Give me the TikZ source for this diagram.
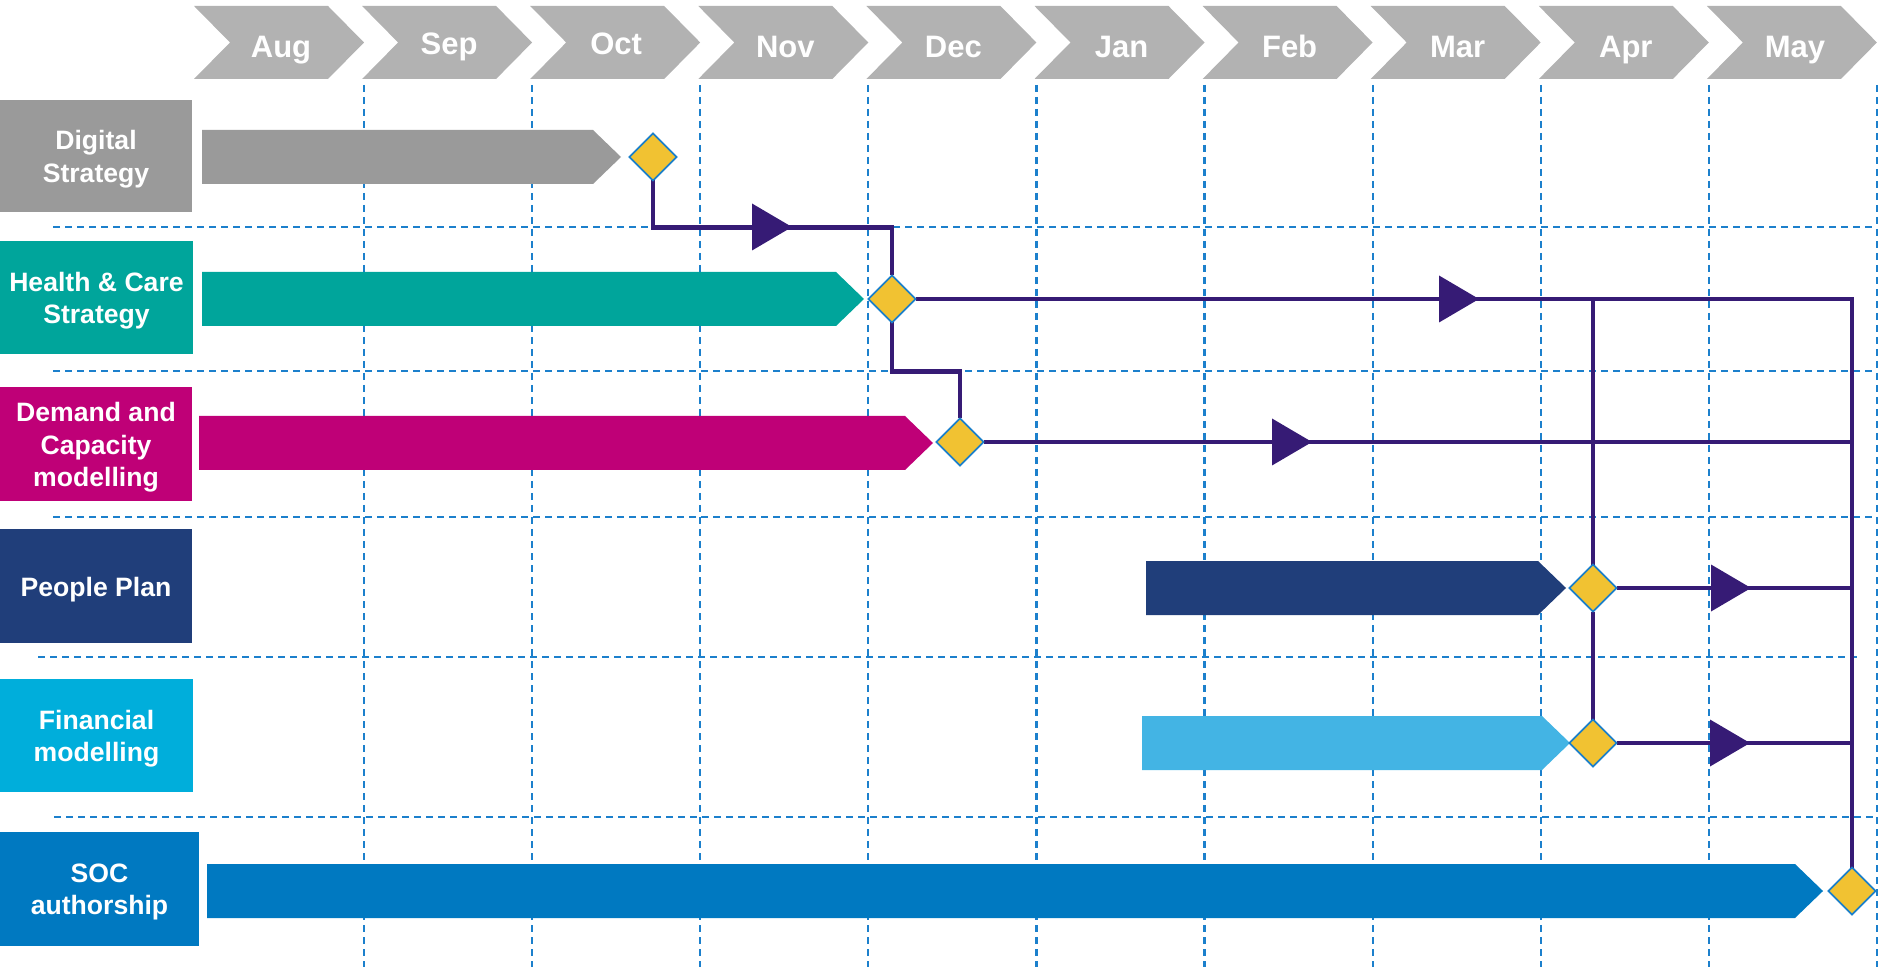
\documentclass[tikz,border=0pt]{standalone}
\usepackage{fontspec}
\setmainfont{Liberation Sans}
\usetikzlibrary{shapes.geometric}
\definecolor{chev}{HTML}{B2B2B2}
\definecolor{dgrey}{HTML}{9A9A9A}
\definecolor{teal}{HTML}{00A59B}
\definecolor{magenta}{HTML}{BF0077}
\definecolor{navy}{HTML}{203E7A}
\definecolor{finbox}{HTML}{00AEDB}
\definecolor{finbar}{HTML}{43B4E4}
\definecolor{socblue}{HTML}{0079C1}
\definecolor{gold}{HTML}{F1C232}
\definecolor{mblue}{HTML}{1B7FC9}
\definecolor{conncol}{HTML}{361B75}
\definecolor{gridcol}{HTML}{1C80CC}
\newcommand\ganttbar[4]{\fill[#1] (#2,#4-27) -- (#3,#4-27) -- (#3+28,#4) -- (#3,#4+27) -- (#2,#4+27) -- cycle;}
\newcommand\midarrow[2]{\fill[conncol] (#1,#2-23.5) -- (#1+40,#2) -- (#1,#2+23.5) -- cycle;}
\begin{document}
\begin{tikzpicture}[x=0.5pt,y=-0.5pt,
  grid/.style={draw=gridcol,line width=1.1pt,dash pattern=on 3.5pt off 2.5pt},
  conn/.style={draw=conncol,line width=2.2pt},
  ms/.style={diamond,aspect=1,minimum width=23.5pt,minimum height=23.5pt,inner sep=0pt,outer sep=0pt,fill=gold,draw=mblue,line width=0.8pt},
  lab/.style={rectangle,inner sep=0pt,outer sep=0pt},
  labtext/.style={text=white,align=center,inner sep=0pt,yshift=-1.6pt,font=\bfseries\fontsize{13.3pt}{16.1pt}\selectfont},
  mon/.style={text=white,anchor=base,inner sep=0pt,font=\bfseries\fontsize{15.5pt}{18pt}\selectfont}]
\useasboundingbox (0,0) rectangle (1878,967);
% vertical grid
\foreach \i in {0,...,9}{
  \pgfmathsetmacro\gx{364+168.1*\i}
  \draw[grid] (\gx,85) -- (\gx,967);
}
% horizontal grid
\draw[grid] (53,227) -- (1876,227);
\draw[grid] (53,371) -- (1876,371);
\draw[grid] (53,517) -- (1876,517);
\draw[grid] (38,657) -- (1859,657);
\draw[grid] (54,817) -- (1876,817);
% chevrons
\foreach \m [count=\i from 0] in {Aug,Sep,Oct,Nov,Dec,Jan,Feb,Mar,Apr,May}{
  \pgfmathsetmacro\L{194+168.1*\i}
  \fill[chev] (\L,6) -- (\L+134,6) -- (\L+170,42.5) -- (\L+134,79) -- (\L,79) -- (\L+36,42.5) -- cycle;
}
\node[mon] (mAug) at (281,57.5) {Aug};
\node[mon] (mSep) at (449.1,54.5) {Sep};
\node[mon] (mOct) at (616.2,54.5) {Oct};
\node[mon] (mNov) at (785.3,57.5) {Nov};
\node[mon] (mDec) at (953.4,57.5) {Dec};
\node[mon] (mJan) at (1121.5,57.5) {Jan};
\node[mon] (mFeb) at (1289.6,57.5) {Feb};
\node[mon] (mMar) at (1457.7,57.5) {Mar};
\node[mon] (mApr) at (1625.8,57.5) {Apr};
\node[mon] (mMay) at (1795,57.5) {May};
% row labels
\node[lab,fill=dgrey,minimum width=96pt,minimum height=56pt,label={[labtext]center:{Digital\\Strategy}}] (lDig) at (96,156) {};
\node[lab,fill=teal,minimum width=96.5pt,minimum height=56.5pt,label={[labtext]center:{Health \& Care\\Strategy}}] (lHea) at (96.5,297.5) {};
\node[lab,fill=magenta,minimum width=96pt,minimum height=57pt,label={[labtext]center:{Demand and\\Capacity\\modelling}}] (lDem) at (96,444) {};
\node[lab,fill=navy,minimum width=96pt,minimum height=57pt,label={[labtext]center:{People Plan}}] (lPeo) at (96,586) {};
\node[lab,fill=finbox,minimum width=96.5pt,minimum height=56.5pt,label={[labtext]center:{Financial\\modelling}}] (lFin) at (96.5,735.5) {};
\node[lab,fill=socblue,minimum width=99.5pt,minimum height=57pt,label={[labtext]center:{SOC\\authorship}}] (lSoc) at (99.5,889) {};
% bars
\ganttbar{dgrey}{202}{593}{157}
\ganttbar{teal}{202}{836}{299}
\ganttbar{magenta}{199}{905}{443}
\ganttbar{navy}{1146}{1538}{588}
\ganttbar{finbar}{1142}{1542}{743}
\ganttbar{socblue}{207}{1795}{891}
% milestones (anchors)
\node[ms] (d1) at (653,157) {};
\node[ms] (d2) at (892,299) {};
\node[ms] (d3) at (960,442) {};
\node[ms] (d4) at (1593,588) {};
\node[ms] (d5) at (1593,743) {};
\node[ms] (d6) at (1852,891) {};
\coordinate (rt) at (1852,299);
% connectors
\draw[conn] (d1.south) -- ++(0,47) -| (d2.north);
\draw[conn] (d2.south) -- ++(0,49) -| (d3.north);
\draw[conn] (d2.east) -- (rt) -- (d6.north);
\draw[conn] (d3.east) -- (d3.east -| rt);
\draw[conn] (d4.east) -- (d4.east -| rt);
\draw[conn] (d5.east) -- (d5.east -| rt);
\draw[conn] (d2.east -| d4.north) -- (d4.north);
\draw[conn] (d4.south) -- (d5.north);
\midarrow{752}{227}
\midarrow{1439}{299}
\midarrow{1272}{442}
\midarrow{1711}{588}
\midarrow{1710}{743}
% milestones on top
\node[ms] at (d1) {};
\node[ms] at (d2) {};
\node[ms] at (d3) {};
\node[ms] at (d4) {};
\node[ms] at (d5) {};
\node[ms] at (d6) {};
\end{tikzpicture}
\end{document}
